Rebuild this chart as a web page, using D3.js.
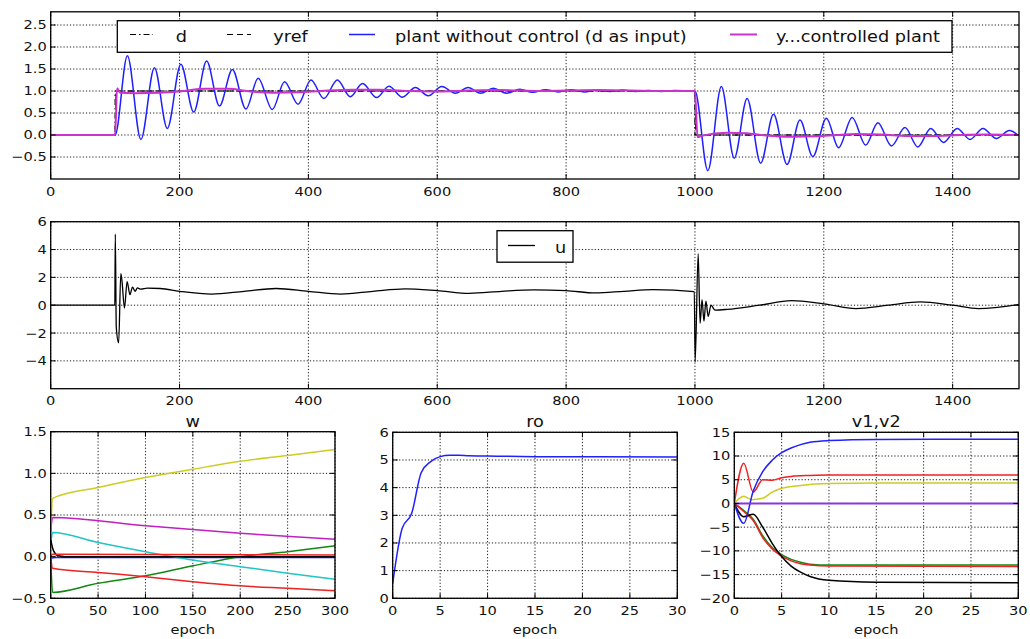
<!DOCTYPE html>
<html><head><meta charset="utf-8">
<script src="https://cdn.jsdelivr.net/npm/d3@7"></script>
<style>body{margin:0;background:#fff} text{font-family:"DejaVu Sans",sans-serif;fill:#111}</style>
</head><body><svg id="c" width="1030" height="639"></svg>
<script>
// ---------- top panel data ----------
const topXTicks = [0,200,400,600,800,1000,1200,1400];
const topYTicks = [-0.5,0,0.5,1,1.5,2,2.5];
const dSignal = [[0,0],[100,0],[100.01,1],[1000,1],[1000.01,0],[1503,0]];
const yrefSignal = [[0,0],[100,0],[101.5,1],[1000,1],[1001.5,0],[1503,0]];
const plantNoControl = [[0,0],[100,0],[119,1.80],[140,-0.10],[161,1.53],[181,0.15],[202,1.61],[222,0.52],[242,1.68],[262,0.66],[282,1.49],[303,0.59],[322,1.29],[344,0.58],[363,1.21],[384,0.70],[404,1.25],[424,0.83],[445,1.25],[465,0.87],[484,1.17],[506,0.85],[525,1.11],[546,0.86],[566,1.08],[586,0.89],[607,1.10],[628,0.95],[648,1.08],[667,0.95],[687,1.06],[708,0.95],[728,1.04],[748,0.97],[768,1.03],[788,0.98],[808,1.03],[828,0.98],[848,1.02],[868,0.99],[888,1.02],[908,0.99],[928,1.01],[948,0.99],[968,1.01],[1000,1.0],[1020,-0.81],[1041,1.10],[1061,-0.53],[1081,0.83],[1102,-0.64],[1122,0.47],[1143,-0.67],[1163,0.34],[1183,-0.49],[1204,0.38],[1223,-0.29],[1244,0.40],[1265,-0.23],[1284,0.28],[1305,-0.25],[1326,0.17],[1346,-0.27],[1366,0.15],[1386,-0.17],[1407,0.15],[1427,-0.10],[1447,0.15],[1468,-0.08],[1488,0.10],[1503,-0.02]];
const controlledPlant = [[0,0],[100,0],[103,1.06],[108,0.96],[130,0.95],[170,0.96],[200,0.99],[240,1.05],[275,1.05],[310,0.99],[350,0.96],[385,0.97],[420,1.0],[470,1.03],[510,1.03],[560,1.0],[600,0.99],[650,1.01],[700,1.02],[760,1.0],[800,1.01],[850,1.02],[900,1.01],[950,1.0],[1000,1.0],[1004,-0.05],[1010,-0.02],[1050,0.05],[1080,0.04],[1110,-0.01],[1150,-0.04],[1190,-0.03],[1220,0],[1250,0.02],[1290,0.01],[1330,-0.02],[1370,-0.02],[1410,0],[1450,0.01],[1503,0]];
const topLegend = ["d","yref","plant without control (d as input)","y...controlled plant"];

// ---------- middle panel data ----------
const midYTicks = [-4,-2,0,2,4,6];
const uSignal = [[0,0],[99.5,0],[100.3,5.1],[101.8,-1.6],[105.5,-2.7],[108.8,2.26],[110.5,1.8],[114.5,-0.2],[118.6,1.7],[123,0.76],[127,1.3],[131,1.0],[134.6,1.24],[140,1.15],[150,1.22],[170,1.2],[200,1.0],[250,0.8],[300,1.0],[350,1.2],[400,1.0],[450,0.8],[500,1.0],[550,1.18],[600,1.05],[650,0.85],[700,1.0],[750,1.1],[800,1.05],[845,0.88],[890,1.0],[935,1.12],[999,0.98],[1000.3,-4.07],[1005,3.7],[1008,-1.3],[1011,0.4],[1014,-1.15],[1017,0.3],[1020.5,-0.8],[1025,0.0],[1031,-0.35],[1050,-0.3],[1100,0.0],[1150,0.33],[1200,0.1],[1250,-0.24],[1300,0.0],[1350,0.24],[1400,0.0],[1440,-0.25],[1503,0.05]];

// ---------- w panel ----------
const wXTicks = [0,50,100,150,200,250,300];
const wYTicks = [-0.5,0,0.5,1,1.5];
const wBlue = [[0,-0.02],[5,-0.01],[300,-0.01]];
const wGreen = [[0,0],[2,-0.43],[50,-0.32],[100,-0.23],[150,-0.11],[200,0.0],[250,0.06],[300,0.13]];
const wRed = [[0,0],[2,-0.14],[50,-0.19],[100,-0.24],[150,-0.30],[200,-0.35],[250,-0.38],[300,-0.41]];
const wCyan = [[0,0.15],[2,0.29],[50,0.17],[100,0.06],[150,-0.04],[200,-0.12],[250,-0.2],[300,-0.27]];
const wMagenta = [[0,0.3],[2,0.47],[100,0.37],[200,0.28],[300,0.21]];
const wYellow = [[0,0.25],[2,0.70],[50,0.83],[100,0.95],[150,1.05],[200,1.145],[250,1.215],[300,1.285]];
const wBlack = [[0,0.2],[3,0.07],[8,0.01],[15,0],[300,0]];
const wRed2 = [[0,0],[2,0.03],[300,0.02]];

// ---------- ro panel ----------
const epochTicks = [0,5,10,15,20,25,30];
const roYTicks = [0,1,2,3,4,5,6];
const roValues = [[0,0.54],[1,2.53],[2,3.07],[3,4.54],[4,4.94],[5,5.12],[6,5.17],[7,5.17],[8,5.15],[10,5.14],[15,5.12],[30,5.11]];

// ---------- v1,v2 panel ----------
const vYTicks = [-20,-15,-10,-5,0,5,10,15];
const vBlue = [[0,0],[1,-4.2],[2,2.6],[3,6.7],[4,9.1],[5,10.7],[6,11.7],[7,12.4],[8,12.9],[10,13.25],[15,13.5],[30,13.56]];
const vRed = [[0,0],[1,8.5],[2,2.4],[3,5.0],[4,4.9],[5,5.4],[6,5.7],[8,5.9],[10,6.0],[30,6.0]];
const vYellow = [[0,0],[1,1.5],[1.8,0.8],[3,1.1],[4,2.4],[5,3.2],[7,3.8],[10,4.2],[15,4.3],[30,4.3]];
const vZero1 = [[0,0],[30,0]];
const vZero2 = [[0,0],[30,0]];
const vBlack = [[0,0],[1,-2.8],[2,-2.3],[3,-5.0],[4,-8.4],[5,-11.2],[6,-13.2],[7,-14.5],[8,-15.4],[10,-16.2],[15,-16.6],[30,-16.7]];
const vGreen = [[0,0],[1,-1.5],[2,-3.3],[3,-6.8],[4,-9.3],[5,-10.8],[6,-11.8],[7,-12.4],[8,-12.8],[10,-13.0],[30,-13.0]];
const vRed2 = [[0,0],[1,-1.7],[2,-3.6],[3,-7.2],[4,-9.6],[5,-11.1],[6,-12.1],[7,-12.7],[8,-13.0],[10,-13.2],[30,-13.3]];

const C = {b:"#1f1fff", g:"#118811", r:"#ee2222", c:"#22c4c4", m:"#c020c0", y:"#cccc22", k:"#000000", mp:"#cc33cc"};
const FS = 12.4, FL = 15, SX = 1.18;
const svg = d3.select("#c");
svg.append("rect").attr("width",1030).attr("height",639).attr("fill","#fff");

// text stretched horizontally like the reference picture
function txt(parent, x, y, s, size, anchor, dy) {
  const t = parent.append("text").attr("transform", `translate(${x},${y}) scale(${SX},1)`)
    .attr("font-size", size).attr("text-anchor", anchor || "start").text(s);
  if (dy) t.attr("dy", dy);
  return t;
}

let clipN = 0;
function panel(box, xd, yd, xt, yt, xf, yf) {
  const x = d3.scaleLinear().domain(xd).range([box.l, box.r]);
  const y = d3.scaleLinear().domain(yd).range([box.b, box.t]);
  const g = svg.append("g");
  const id = "clip" + (clipN++);
  svg.append("clipPath").attr("id", id).append("rect")
    .attr("x", box.l).attr("y", box.t).attr("width", box.r-box.l).attr("height", box.b-box.t);
  const grid = g.append("g").attr("stroke","#000").attr("stroke-width",0.9).attr("stroke-dasharray","1.2,2");
  xt.forEach(v => grid.append("line").attr("x1",x(v)).attr("x2",x(v)).attr("y1",box.t).attr("y2",box.b));
  yt.forEach(v => grid.append("line").attr("y1",y(v)).attr("y2",y(v)).attr("x1",box.l).attr("x2",box.r));
  const lines = g.append("g").attr("clip-path","url(#"+id+")");
  const frame = g.append("g");
  function draw(data, color, w, dash, curve) {
    const gen = d3.line().x(d=>x(d[0])).y(d=>y(d[1])).curve(curve||d3.curveMonotoneX);
    const p = lines.append("path").datum(data).attr("d",gen).attr("fill","none")
      .attr("stroke",color).attr("stroke-width",w||1.4).attr("stroke-linejoin","round");
    if (dash) p.attr("stroke-dasharray",dash);
    return p;
  }
  function finish() {
    frame.append("rect").attr("x",box.l).attr("y",box.t).attr("width",box.r-box.l).attr("height",box.b-box.t)
      .attr("fill","none").attr("stroke","#000").attr("stroke-width",1.3);
    const tk = frame.append("g").attr("stroke","#000").attr("stroke-width",1);
    xt.forEach(v => {
      tk.append("line").attr("x1",x(v)).attr("x2",x(v)).attr("y1",box.b).attr("y2",box.b-5);
      tk.append("line").attr("x1",x(v)).attr("x2",x(v)).attr("y1",box.t).attr("y2",box.t+5);
      txt(frame, x(v), box.b+16.5, xf(v), FS, "middle");
    });
    yt.forEach(v => {
      tk.append("line").attr("y1",y(v)).attr("y2",y(v)).attr("x1",box.l).attr("x2",box.l+5);
      tk.append("line").attr("y1",y(v)).attr("y2",y(v)).attr("x1",box.r).attr("x2",box.r-5);
      txt(frame, box.l-4, y(v), yf(v), FS, "end", "0.36em");
    });
  }
  return {x, y, g, draw, finish, box};
}
const fInt = d3.format("d");
const f1 = d3.format(".1f");

// top
const P1 = panel({l:50.7,r:1019,t:11.8,b:179}, [0,1503], [-1,2.8], topXTicks, topYTicks, fInt, f1);
P1.draw(dSignal, C.k, 1.2, "6,3,1.5,3", d3.curveLinear);
P1.draw(yrefSignal, C.k, 1.2, "6,4", d3.curveLinear);
P1.draw(plantNoControl, C.b, 1.5);
P1.draw(controlledPlant, C.mp, 2);
P1.finish();
// top legend
{
  const lg = svg.append("g");
  lg.append("rect").attr("x",117.3).attr("y",20.7).attr("width",952-117.3).attr("height",31.6)
    .attr("fill","#fff").attr("stroke","#000").attr("stroke-width",1.3);
  const items = [
    {s:130, e:153, tx:175.7, c:C.k, dash:"6,3,1.5,3", w:1.2},
    {s:227, e:251, tx:273.3, c:C.k, dash:"6,4", w:1.2},
    {s:349, e:375, tx:395, c:C.b, dash:null, w:1.5},
    {s:730, e:757, tx:776, c:C.mp, dash:null, w:2}
  ];
  items.forEach((it,i) => {
    const ln = lg.append("line").attr("x1",it.s).attr("x2",it.e).attr("y1",34.5).attr("y2",34.5)
      .attr("stroke",it.c).attr("stroke-width",it.w);
    if (it.dash) ln.attr("stroke-dasharray",it.dash);
    txt(lg, it.tx, 41.5, topLegend[i], FL);
  });
}

// middle
const P2 = panel({l:50.7,r:1019,t:221.7,b:388.7}, [0,1503], [-6,6], topXTicks, midYTicks, fInt, fInt);
P2.draw(uSignal, C.k, 1.3);
P2.finish();
{
  const lg = svg.append("g");
  lg.append("rect").attr("x",497).attr("y",230.7).attr("width",76).attr("height",31.5)
    .attr("fill","#fff").attr("stroke","#000").attr("stroke-width",1.3);
  lg.append("line").attr("x1",508).attr("x2",535).attr("y1",245.5).attr("y2",245.5).attr("stroke","#000").attr("stroke-width",1.3);
  txt(lg, 555, 252.5, "u", FL);
}

// w
const P3 = panel({l:50.7,r:335,t:431.7,b:598.3}, [0,300], [-0.5,1.5], wXTicks, wYTicks, fInt, f1);
[[wBlue,C.b],[wGreen,C.g],[wRed,C.r],[wCyan,C.c],[wMagenta,C.m],[wYellow,C.y],[wBlack,C.k],[wRed2,C.r]]
  .forEach(s => P3.draw(s[0], s[1], 1.5));
P3.finish();

// ro
const P4 = panel({l:392.7,r:677.3,t:432.3,b:598.3}, [0,30], [0,6], epochTicks, roYTicks, fInt, fInt);
P4.draw(roValues, C.b, 1.5);
P4.finish();

// v1,v2
const P5 = panel({l:734.3,r:1018.3,t:432.3,b:598.3}, [0,30], [-20,15], epochTicks, vYTicks, fInt, fInt);
[[vGreen,C.g],[vRed2,C.r],[vBlack,C.k],[vYellow,C.y],[vRed,C.r],[vBlue,C.b],[vZero1,C.b],[vZero2,C.m]]
  .forEach(s => P5.draw(s[0], s[1], 1.5, null, d3.curveMonotoneX));
P5.finish();

// titles & x labels
[[P3,"w"],[P4,"ro"],[P5,"v1,v2"]].forEach(([p,t]) => {
  const cx = (p.box.l+p.box.r)/2;
  txt(svg, cx, 427, t, FL, "middle");
  txt(svg, cx, 633.5, "epoch", FS, "middle");
});
</script></body></html>
